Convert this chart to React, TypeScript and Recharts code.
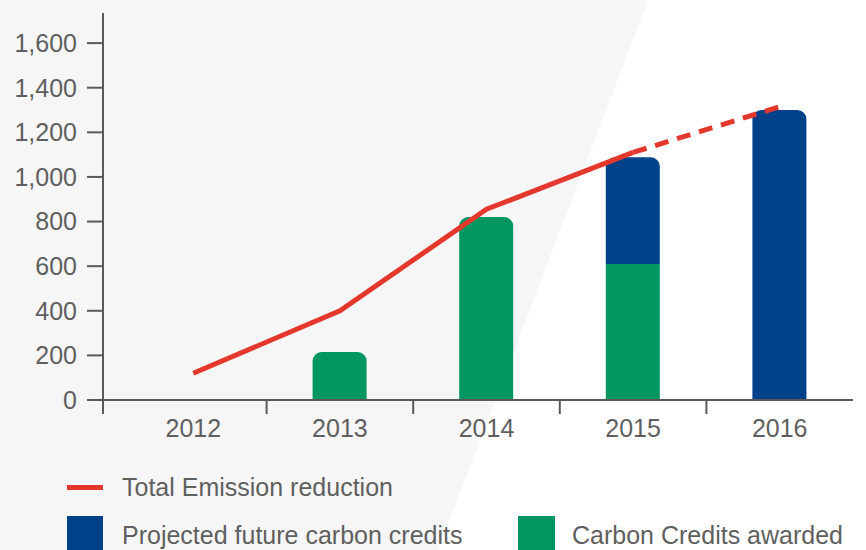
import { ComposedChart, Bar, Line, XAxis, YAxis, Rectangle } from "recharts";

// values
const years = ["2012", "2013", "2014", "2015", "2016"];
const creditsAwarded = [null, 215, 820, 610, null];
const creditsProjected = [null, null, null, 478, 1300];
const emissionReduction = [120, 400, 855, 1110, null];
const emissionProjected = [null, null, null, 1110, 1315];
const yTicks = [0, 200, 400, 600, 800, 1000, 1200, 1400, 1600];

const data = years.map((year, i) => ({
  year,
  awarded: creditsAwarded[i],
  projected: creditsProjected[i],
  emission: emissionReduction[i],
  emissionProjected: emissionProjected[i],
}));

const AXIS = "#5a5a5a";
const TEXT = "#5f5f5f";
const RED = "#e5382d";
const BLUE = "#00428a";
const GREEN = "#00965f";
const FONT = '"Liberation Sans", Arial, sans-serif';
const PAD_LEFT = 17;

// label in the middle of the band, tick mark on the band's left edge
const XTick = (props: any) => {
  const { x, y, payload, index } = props;
  const half = payload.offset ?? 73;
  const edge = index === 0 ? x - half - PAD_LEFT : x - half;
  return (
    <g>
      <line x1={edge} x2={edge} y1={y} y2={y + 14} stroke={AXIS} strokeWidth={2} />
      <text x={x} y={y + 37} textAnchor="middle" fill={TEXT} fontSize={25} fontFamily={FONT}>
        {payload.value}
      </text>
    </g>
  );
};

// green segment only rounded when nothing is stacked on top of it
const AwardedShape = (props: any) => (
  <Rectangle {...props} radius={props.payload.projected ? 0 : [9, 9, 0, 0]} />
);

export default function App() {
  return (
    <div style={{ position: "relative", width: 866, height: 550, overflow: "hidden", background: "#fff" }}>
      <style>{`body{margin:0}`}</style>
      {/* light grey diagonal panel behind the plot */}
      <svg width={866} height={550} style={{ position: "absolute", left: 0, top: 0 }}>
        <polygon points="0,0 648,0 438,550 0,550" fill="#f6f6f6" />
      </svg>
      <div style={{ position: "absolute", left: 0, top: 0 }}>
        <ComposedChart
          width={866}
          height={550}
          data={data}
          margin={{ top: 13, right: 13, left: 0, bottom: 110 }}
          style={{ fontFamily: FONT }}
        >
          <XAxis
            dataKey="year"
            height={40}
            padding={{ left: PAD_LEFT, right: 0 }}
            axisLine={{ stroke: AXIS, strokeWidth: 2 }}
            tickLine={false}
            tickSize={0}
            tickMargin={0}
            tick={<XTick />}
            interval={0}
          />
          <YAxis
            width={103}
            domain={[0, 1735]}
            ticks={yTicks}
            tickFormatter={(v: number) => v.toLocaleString("en-US")}
            axisLine={{ stroke: AXIS, strokeWidth: 2 }}
            tickLine={{ stroke: AXIS, strokeWidth: 2 }}
            tickSize={16}
            tickMargin={10}
            tick={{ fill: TEXT, fontSize: 25, fontFamily: FONT }}
            allowDataOverflow
          />
          <Bar
            dataKey="awarded"
            stackId="credits"
            fill={GREEN}
            barSize={54}
            shape={<AwardedShape />}
            isAnimationActive={false}
          />
          <Bar
            dataKey="projected"
            stackId="credits"
            fill={BLUE}
            barSize={54}
            radius={[9, 9, 0, 0]}
            isAnimationActive={false}
          />
          <Line
            dataKey="emission"
            stroke={RED}
            strokeWidth={5}
            dot={false}
            type="linear"
            isAnimationActive={false}
          />
          <Line
            dataKey="emissionProjected"
            stroke={RED}
            strokeWidth={5}
            strokeDasharray="14 9"
            dot={false}
            type="linear"
            isAnimationActive={false}
          />
        </ComposedChart>
      </div>
      {/* legend */}
      <div style={{ position: "absolute", left: 0, top: 0, fontFamily: FONT, fontSize: 25, color: TEXT }}>
        <div style={{ position: "absolute", left: 67, top: 485, width: 36, height: 5, background: RED }} />
        <div style={{ position: "absolute", left: 122, top: 472, whiteSpace: "nowrap", lineHeight: "30px" }}>
          Total Emission reduction
        </div>
        <div style={{ position: "absolute", left: 67, top: 516, width: 36, height: 40, background: BLUE }} />
        <div style={{ position: "absolute", left: 122, top: 520, whiteSpace: "nowrap", lineHeight: "30px" }}>
          Projected future carbon credits
        </div>
        <div style={{ position: "absolute", left: 518, top: 516, width: 37, height: 40, background: GREEN }} />
        <div style={{ position: "absolute", left: 572, top: 520, whiteSpace: "nowrap", lineHeight: "30px" }}>
          Carbon Credits awarded
        </div>
      </div>
    </div>
  );
}
